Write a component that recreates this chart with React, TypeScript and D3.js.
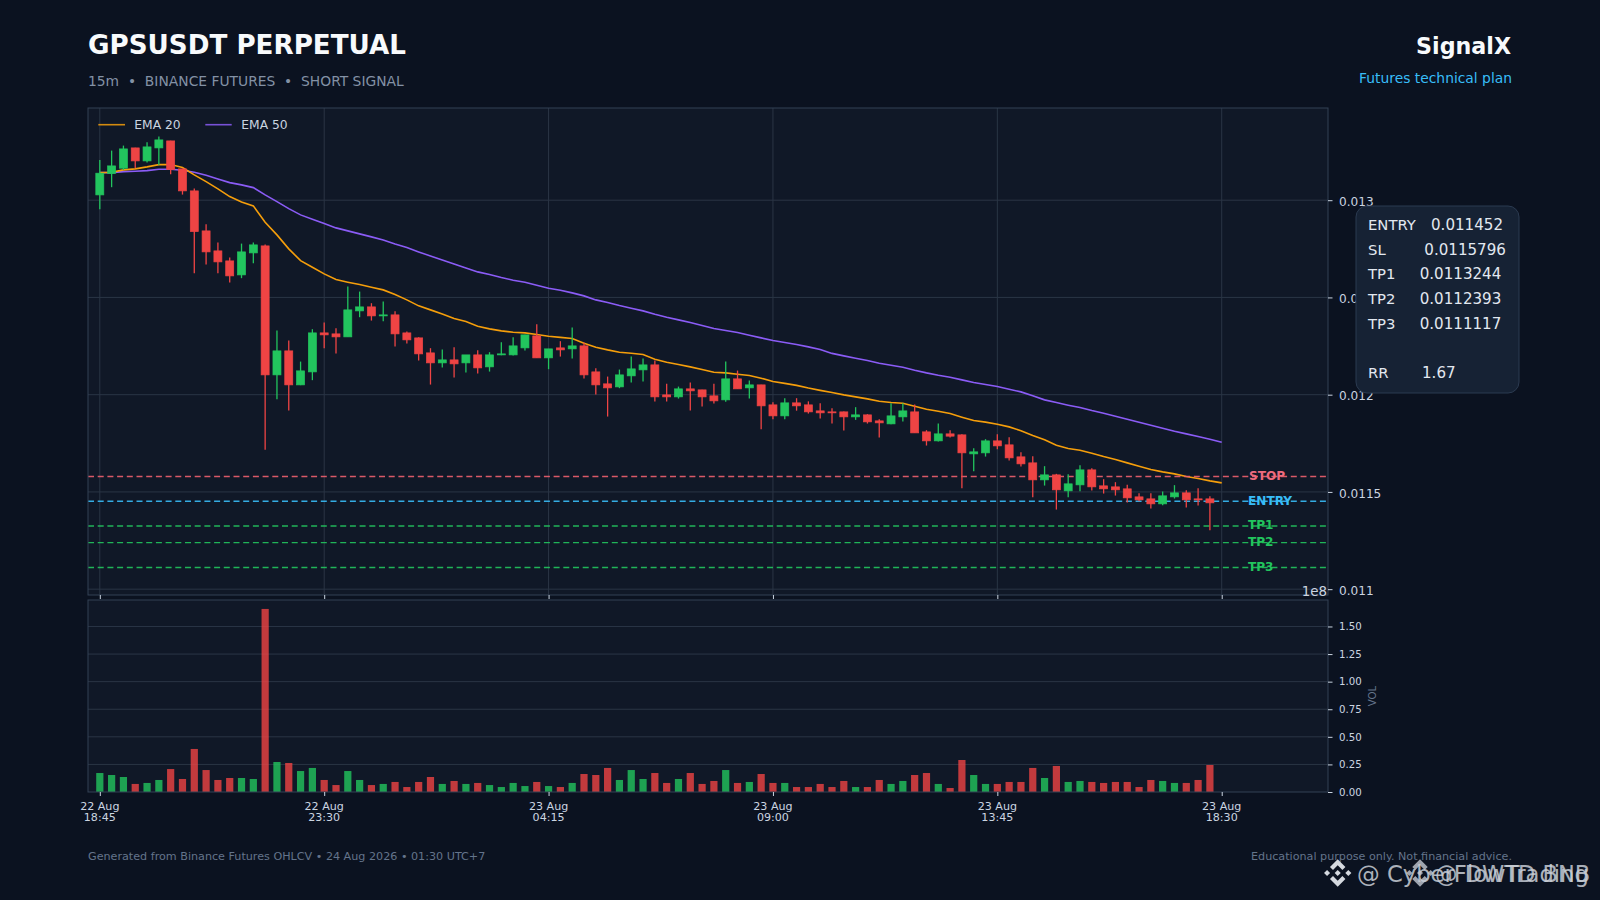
import React, { useEffect, useRef } from 'react';
import * as d3 from 'd3';

// candle values, 15m bars
const openPrices = [
  0.0130272, 0.0131367, 0.0131645, 0.0132688, 0.0132020, 0.0132688, 0.0133048, 0.0131609, 0.0130478, 0.0128421,
  0.0127393, 0.0126879, 0.0126159, 0.0127290, 0.0127650, 0.0121018, 0.0122252, 0.0120504, 0.0121172, 0.0123177,
  0.0123126, 0.0122972, 0.0124308, 0.0124514, 0.0124051, 0.0124103, 0.0123177, 0.0122920, 0.0122149, 0.0121635,
  0.0121789, 0.0121635, 0.0122046, 0.0121430, 0.0122046, 0.0122046, 0.0122406, 0.0123023, 0.0121892, 0.0122406,
  0.0122355, 0.0122509, 0.0121172, 0.0120556, 0.0120401, 0.0120967, 0.0121275, 0.0121532, 0.0119990, 0.0119887,
  0.0120299, 0.0120247, 0.0119939, 0.0119733, 0.0120813, 0.0120350, 0.0120504, 0.0119476, 0.0118910, 0.0119579,
  0.0119476, 0.0119167, 0.0119116, 0.0119116, 0.0118859, 0.0118962, 0.0118653, 0.0118499, 0.0118859, 0.0119116,
  0.0118088, 0.0117625, 0.0117985, 0.0117934, 0.0116957, 0.0117008, 0.0117625, 0.0117420, 0.0116803, 0.0116494,
  0.0115620, 0.0115877, 0.0115055, 0.0115363, 0.0116134, 0.0115312, 0.0115260, 0.0115158, 0.0114746, 0.0114643,
  0.0114386, 0.0114746, 0.0114952, 0.0114643, 0.0114643, 0.0114520,
];
const highPrices = [
  0.0132072, 0.0132550, 0.0132807, 0.0132700, 0.0132981, 0.0133269, 0.0133060, 0.0131620, 0.0130596, 0.0128766,
  0.0127820, 0.0127049, 0.0127768, 0.0127820, 0.0127717, 0.0123296, 0.0122782, 0.0121702, 0.0123367, 0.0123707,
  0.0123419, 0.0125558, 0.0125301, 0.0124704, 0.0124787, 0.0124293, 0.0123244, 0.0122956, 0.0122391, 0.0122319,
  0.0122442, 0.0122046, 0.0122288, 0.0122185, 0.0122699, 0.0122956, 0.0123075, 0.0123625, 0.0122355, 0.0122751,
  0.0123450, 0.0122679, 0.0121363, 0.0120931, 0.0121291, 0.0121959, 0.0121856, 0.0121754, 0.0120556, 0.0120417,
  0.0120623, 0.0120247, 0.0120556, 0.0121702, 0.0121239, 0.0120725, 0.0120504, 0.0119605, 0.0119810, 0.0119820,
  0.0119656, 0.0119563, 0.0119306, 0.0119132, 0.0119358, 0.0118998, 0.0118741, 0.0119563, 0.0119563, 0.0119491,
  0.0118175, 0.0118515, 0.0118175, 0.0117970, 0.0117250, 0.0117713, 0.0117970, 0.0117815, 0.0117044, 0.0116838,
  0.0116324, 0.0115929, 0.0115914, 0.0116376, 0.0116222, 0.0115656, 0.0115502, 0.0115363, 0.0114936, 0.0114936,
  0.0115019, 0.0115348, 0.0115091, 0.0115193, 0.0114782, 0.0114520,
];
const lowPrices = [
  0.0129537, 0.0130668, 0.0131557, 0.0131645, 0.0131933, 0.0131814, 0.0131336, 0.0130288, 0.0126246, 0.0126689,
  0.0126246, 0.0125763, 0.0125990, 0.0126761, 0.0117162, 0.0119769, 0.0119183, 0.0120489, 0.0120746, 0.0122391,
  0.0122113, 0.0122972, 0.0123984, 0.0123810, 0.0123779, 0.0122473, 0.0122627, 0.0121754, 0.0120520, 0.0121394,
  0.0120879, 0.0121137, 0.0121085, 0.0121188, 0.0122031, 0.0122011, 0.0122268, 0.0121892, 0.0121311, 0.0121959,
  0.0121856, 0.0120828, 0.0120006, 0.0118875, 0.0120335, 0.0120623, 0.0120674, 0.0119646, 0.0119646, 0.0119800,
  0.0119183, 0.0119389, 0.0119543, 0.0119630, 0.0120299, 0.0119800, 0.0118227, 0.0118731, 0.0118731, 0.0119178,
  0.0119029, 0.0118772, 0.0118515, 0.0118155, 0.0118705, 0.0118515, 0.0117795, 0.0118484, 0.0118617, 0.0118036,
  0.0117384, 0.0117589, 0.0117795, 0.0115194, 0.0116068, 0.0116818, 0.0117199, 0.0116613, 0.0116304, 0.0114731,
  0.0115327, 0.0114093, 0.0114731, 0.0115039, 0.0115070, 0.0114916, 0.0114813, 0.0114453, 0.0114525, 0.0114145,
  0.0114319, 0.0114659, 0.0114196, 0.0114299, 0.0113035, 0.0114520,
];
const closePrices = [
  0.0131388, 0.0131763, 0.0132637, 0.0132020, 0.0132740, 0.0133100, 0.0131573, 0.0130478, 0.0128385, 0.0127342,
  0.0126828, 0.0126108, 0.0127342, 0.0127702, 0.0121018, 0.0122252, 0.0120504, 0.0121224, 0.0123177, 0.0123075,
  0.0122972, 0.0124360, 0.0124514, 0.0124051, 0.0124103, 0.0123126, 0.0122818, 0.0122098, 0.0121635, 0.0121789,
  0.0121584, 0.0122046, 0.0121378, 0.0122046, 0.0122098, 0.0122509, 0.0123075, 0.0121892, 0.0122355, 0.0122303,
  0.0122509, 0.0121018, 0.0120504, 0.0120350, 0.0121018, 0.0121327, 0.0121532, 0.0119887, 0.0119887, 0.0120299,
  0.0120196, 0.0119887, 0.0119682, 0.0120813, 0.0120299, 0.0120504, 0.0119425, 0.0118910, 0.0119579, 0.0119425,
  0.0119116, 0.0119065, 0.0119065, 0.0118859, 0.0118962, 0.0118602, 0.0118551, 0.0118910, 0.0119167, 0.0118036,
  0.0117625, 0.0117985, 0.0117867, 0.0117008, 0.0117060, 0.0117625, 0.0117368, 0.0116751, 0.0116443, 0.0115620,
  0.0115877, 0.0115106, 0.0115415, 0.0116134, 0.0115260, 0.0115158, 0.0115106, 0.0114695, 0.0114592, 0.0114386,
  0.0114798, 0.0114952, 0.0114592, 0.0114592, 0.0114438, 0.0114520,
];
const ema20 = [
  0.0131419, 0.0131439, 0.0131557, 0.0131609, 0.0131712, 0.0131830, 0.0131830, 0.0131676, 0.0131300, 0.0130956,
  0.0130581, 0.0130185, 0.0129912, 0.0129707, 0.0128869, 0.0128216, 0.0127496, 0.0126894, 0.0126555, 0.0126211,
  0.0125918, 0.0125784, 0.0125661, 0.0125527, 0.0125388, 0.0125147, 0.0124874, 0.0124566, 0.0124360, 0.0124154,
  0.0123913, 0.0123758, 0.0123522, 0.0123383, 0.0123280, 0.0123213, 0.0123177, 0.0123090, 0.0123008, 0.0122946,
  0.0122885, 0.0122648, 0.0122442, 0.0122303, 0.0122185, 0.0122134, 0.0122062, 0.0121825, 0.0121671, 0.0121548,
  0.0121430, 0.0121291, 0.0121157, 0.0121121, 0.0121054, 0.0120982, 0.0120849, 0.0120674, 0.0120581, 0.0120478,
  0.0120340, 0.0120221, 0.0120108, 0.0119990, 0.0119887, 0.0119784, 0.0119666, 0.0119594, 0.0119563, 0.0119409,
  0.0119255, 0.0119152, 0.0119029, 0.0118843, 0.0118669, 0.0118587, 0.0118484, 0.0118345, 0.0118149, 0.0117903,
  0.0117677, 0.0117404, 0.0117229, 0.0117147, 0.0116993, 0.0116818, 0.0116664, 0.0116494, 0.0116324, 0.0116150,
  0.0116032, 0.0115929, 0.0115790, 0.0115687, 0.0115569, 0.0115466,
];
const ema50 = [
  0.0131419, 0.0131419, 0.0131470, 0.0131490, 0.0131521, 0.0131593, 0.0131593, 0.0131542, 0.0131439, 0.0131285,
  0.0131095, 0.0130904, 0.0130786, 0.0130647, 0.0130272, 0.0129928, 0.0129568, 0.0129244, 0.0129023, 0.0128797,
  0.0128576, 0.0128421, 0.0128267, 0.0128113, 0.0127948, 0.0127743, 0.0127563, 0.0127342, 0.0127136, 0.0126930,
  0.0126725, 0.0126519, 0.0126313, 0.0126175, 0.0126021, 0.0125887, 0.0125784, 0.0125630, 0.0125475, 0.0125373,
  0.0125234, 0.0125080, 0.0124874, 0.0124735, 0.0124581, 0.0124447, 0.0124308, 0.0124139, 0.0123985, 0.0123846,
  0.0123707, 0.0123553, 0.0123399, 0.0123296, 0.0123193, 0.0123059, 0.0122920, 0.0122782, 0.0122679, 0.0122576,
  0.0122458, 0.0122319, 0.0122123, 0.0121995, 0.0121877, 0.0121753, 0.0121620, 0.0121517, 0.0121414, 0.0121260,
  0.0121121, 0.0121003, 0.0120900, 0.0120761, 0.0120622, 0.0120520, 0.0120417, 0.0120283, 0.0120144, 0.0119939,
  0.0119733, 0.0119594, 0.0119461, 0.0119337, 0.0119183, 0.0119049, 0.0118895, 0.0118741, 0.0118587, 0.0118432,
  0.0118278, 0.0118124, 0.0117985, 0.0117846, 0.0117712, 0.0117558,
];
// volume in units of 1e8
const volumes = [
  0.172, 0.154, 0.136, 0.073, 0.082, 0.109, 0.208, 0.118, 0.390, 0.199,
  0.109, 0.127, 0.127, 0.118, 1.659, 0.272, 0.263, 0.190, 0.218, 0.109,
  0.063, 0.190, 0.109, 0.063, 0.073, 0.091, 0.045, 0.091, 0.136, 0.073,
  0.100, 0.073, 0.082, 0.063, 0.045, 0.082, 0.054, 0.091, 0.054, 0.045,
  0.082, 0.163, 0.154, 0.218, 0.109, 0.199, 0.118, 0.172, 0.082, 0.118,
  0.172, 0.073, 0.100, 0.199, 0.082, 0.091, 0.163, 0.082, 0.082, 0.045,
  0.045, 0.073, 0.045, 0.100, 0.045, 0.045, 0.109, 0.073, 0.100, 0.154,
  0.172, 0.073, 0.036, 0.290, 0.154, 0.073, 0.073, 0.091, 0.091, 0.218,
  0.127, 0.236, 0.091, 0.100, 0.091, 0.082, 0.091, 0.091, 0.045, 0.109,
  0.100, 0.082, 0.082, 0.109, 0.245, 0,
];

const timeTickIndex = [0, 19, 38, 57, 76, 95];
const timeTickDays = ['22 Aug', '22 Aug', '23 Aug', '23 Aug', '23 Aug', '23 Aug'];
const timeTickHours = ['18:45', '23:30', '04:15', '09:00', '13:45', '18:30'];
const priceTicks = [0.011, 0.0115, 0.012, 0.0125, 0.013];
const volumeTicks = [0, 0.25, 0.5, 0.75, 1, 1.25, 1.5];

const levelNames = ['STOP', 'ENTRY', 'TP1', 'TP2', 'TP3'];
const levelPrices = [0.0115796, 0.011452, 0.0113244, 0.0112393, 0.0111117];
const levelColors = ['#f0606f', '#38bdf8', '#22c55e', '#22c55e', '#22c55e'];
const levelTextColors = ['#ee6b7e', '#38bdf8', '#22c55e', '#22c55e', '#22c55e'];
const levelLabelY = [480, 505, 529.3, 545.7, 570.7];
const levelLabelX = [1249, 1248, 1248, 1248, 1248];

const planLabels = ['ENTRY', 'SL', 'TP1', 'TP2', 'TP3', 'RR'];
const planValues = ['0.011452', '0.0115796', '0.0113244', '0.0112393', '0.0111117', '1.67'];
const planValueOffset = [63, 56.3, 51.7, 51.7, 51.7, 54];
const planRowY = [230, 255, 279.3, 304, 328.7, 378.3];

const FONT = '"DejaVu Sans", sans-serif';
const UP = '#22c55e';
const DOWN = '#ef4444';
const GRID = '#2a3545';
const SPINE = '#334155';
const TICK_TEXT = '#cbd5e1';

const price = { left: 88, right: 1328, top: 108, bottom: 595 };
const vol = { top: 600, bottom: 792 };

// binance style mark: three small diamonds and two chevrons
function drawMark(g: any, cx: number, cy: number, r: number, color: string, opacity: number) {
  const mark = g.append('g').attr('fill', color).attr('opacity', opacity);
  [[0, 0.22], [-0.77, 0.22], [0.77, 0.22]].forEach(([dx, s]) => {
    const x0 = cx + dx * r;
    const d = s * r;
    mark.append('path').attr('d', `M${x0},${cy - d}L${x0 + d},${cy}L${x0},${cy + d}L${x0 - d},${cy}Z`);
  });
  const chevron = [[0, -1], [0.56, -0.44], [0.34, -0.22], [0, -0.56], [-0.34, -0.22], [-0.56, -0.44]];
  [1, -1].forEach((flip) => {
    mark.append('path').attr('d', d3.line()(chevron.map(([px, py]) => [cx + px * r, cy + flip * py * r] as [number, number])) + 'Z');
  });
}

function App() {
  const ref = useRef<SVGSVGElement | null>(null);

  useEffect(() => {
    const svg = d3.select(ref.current);
    svg.selectAll('*').remove();

    const x = d3.scaleLinear().domain([-1, 104]).range([price.left, price.right]);
    const y = d3.scaleLinear().domain([0.01097, 0.013474]).range([price.bottom, price.top]);
    const yVol = d3.scaleLinear().domain([0, 1.74]).range([vol.bottom, vol.top]);
    const bodyW = 8;
    const volW = 7.2;
    const idx = d3.range(openPrices.length);

    const label = (g: any, tx: number, ty: number, text: string, size: number, fill: string, weight = 'normal', anchor = 'start') =>
      g.append('text')
        .attr('x', tx)
        .attr('y', ty)
        .attr('font-family', FONT)
        .attr('font-size', size)
        .attr('font-weight', weight)
        .attr('text-anchor', anchor)
        .attr('fill', fill)
        .text(text);

    svg.append('rect').attr('width', 1600).attr('height', 900).attr('fill', '#0b1220');

    // panels
    svg.append('rect')
      .attr('x', price.left).attr('y', price.top)
      .attr('width', price.right - price.left).attr('height', price.bottom - price.top)
      .attr('fill', '#101827');
    svg.append('rect')
      .attr('x', price.left).attr('y', vol.top)
      .attr('width', price.right - price.left).attr('height', vol.bottom - vol.top)
      .attr('fill', '#101827');

    // grid
    const grid = svg.append('g').attr('stroke', GRID).attr('stroke-width', 1);
    grid.selectAll('.gx').data(timeTickIndex).join('line')
      .attr('class', 'gx')
      .attr('x1', (d: number) => x(d)).attr('x2', (d: number) => x(d))
      .attr('y1', price.top).attr('y2', price.bottom);
    grid.selectAll('.gy').data(priceTicks).join('line')
      .attr('class', 'gy')
      .attr('x1', price.left).attr('x2', price.right)
      .attr('y1', (d: number) => y(d)).attr('y2', (d: number) => y(d));
    grid.selectAll('.gv').data(volumeTicks.slice(1)).join('line')
      .attr('class', 'gv')
      .attr('x1', price.left).attr('x2', price.right)
      .attr('y1', (d: number) => yVol(d)).attr('y2', (d: number) => yVol(d));

    // ema lines
    const emaLine = d3.line<number>().x((_, i) => x(i)).y((d) => y(d));
    svg.append('path').attr('d', emaLine(ema50)).attr('fill', 'none').attr('stroke', '#8b5cf6').attr('stroke-width', 1.6);
    svg.append('path').attr('d', emaLine(ema20)).attr('fill', 'none').attr('stroke', '#f59e0b').attr('stroke-width', 1.6);

    // trade levels
    const levels = svg.append('g');
    levelPrices.forEach((p, i) => {
      levels.append('line')
        .attr('x1', price.left).attr('x2', price.right)
        .attr('y1', y(p)).attr('y2', y(p))
        .attr('stroke', levelColors[i])
        .attr('stroke-width', 1.4)
        .attr('stroke-opacity', 0.9)
        .attr('stroke-dasharray', '6,3.7');
    });

    // candles
    const candles = svg.append('g').selectAll('g').data(idx).join('g');
    const colorOf = (i: number) => (closePrices[i] >= openPrices[i] ? UP : DOWN);
    candles.append('line')
      .attr('x1', (i: number) => x(i)).attr('x2', (i: number) => x(i))
      .attr('y1', (i: number) => y(highPrices[i])).attr('y2', (i: number) => y(lowPrices[i]))
      .attr('stroke', colorOf).attr('stroke-width', 1.3);
    candles.append('rect')
      .attr('x', (i: number) => x(i) - bodyW / 2)
      .attr('width', bodyW)
      .attr('y', (i: number) => y(Math.max(openPrices[i], closePrices[i])))
      .attr('height', (i: number) => Math.abs(y(openPrices[i]) - y(closePrices[i])))
      .attr('fill', colorOf).attr('stroke', colorOf).attr('stroke-width', 0.7);

    // volume bars
    svg.append('g').selectAll('rect').data(idx).join('rect')
      .attr('x', (i: number) => x(i) - volW / 2)
      .attr('width', volW)
      .attr('y', (i: number) => yVol(volumes[i]))
      .attr('height', (i: number) => yVol(0) - yVol(volumes[i]))
      .attr('fill', colorOf).attr('fill-opacity', 0.8);

    // spines
    [[price.top, price.bottom], [vol.top, vol.bottom]].forEach(([t, b]) => {
      svg.append('rect')
        .attr('x', price.left).attr('y', t)
        .attr('width', price.right - price.left).attr('height', b - t)
        .attr('fill', 'none').attr('stroke', SPINE).attr('stroke-width', 1);
    });

    // axes
    const styleAxis = (g: any, size: number) => {
      g.select('.domain').remove();
      g.selectAll('line').attr('stroke', TICK_TEXT);
      g.selectAll('text').attr('fill', TICK_TEXT).attr('font-family', FONT).attr('font-size', size);
    };
    svg.append('g')
      .attr('transform', `translate(${price.right},0)`)
      .call(d3.axisRight(y).tickValues(priceTicks).tickSize(4.5).tickPadding(6.5).tickFormat((d: any) => String(d)) as any)
      .call((g: any) => styleAxis(g, 12.1))
      .call((g: any) => g.selectAll('text').attr('dy', '0.42em'));
    svg.append('g')
      .attr('transform', `translate(${price.right},0)`)
      .call(d3.axisRight(yVol).tickValues(volumeTicks).tickSize(4.5).tickPadding(6.5).tickFormat((d: any) => d3.format('.2f')(d)) as any)
      .call((g: any) => styleAxis(g, 10.2));
    svg.append('g')
      .attr('transform', `translate(0,${price.bottom})`)
      .call(d3.axisBottom(x).tickValues(timeTickIndex).tickSize(4).tickFormat(() => '') as any)
      .call((g: any) => styleAxis(g, 10));
    svg.append('g')
      .attr('transform', `translate(0,${vol.bottom})`)
      .call(d3.axisBottom(x).tickValues(timeTickIndex).tickSize(4).tickFormat(() => '') as any)
      .call((g: any) => styleAxis(g, 10));

    timeTickIndex.forEach((t, i) => {
      label(svg, x(t), 810, timeTickDays[i], 11.1, TICK_TEXT, 'normal', 'middle');
      label(svg, x(t), 821, timeTickHours[i], 11.1, TICK_TEXT, 'normal', 'middle');
    });

    label(svg, 1327, 595.5, '1e8', 13.4, TICK_TEXT, 'normal', 'end');
    label(svg, 0, 0, 'VOL', 10.2, '#64748b', 'normal', 'middle')
      .attr('transform', `translate(1375.5,696) rotate(-90)`);

    // level labels
    levelNames.forEach((name, i) => {
      label(svg, levelLabelX[i], levelLabelY[i], name, 12.1, levelTextColors[i], 'bold');
    });

    // legend
    svg.append('line').attr('x1', 98.3).attr('x2', 125).attr('y1', 124.7).attr('y2', 124.7)
      .attr('stroke', '#f59e0b').attr('stroke-width', 1.6).attr('opacity', 0.85);
    label(svg, 134.3, 129.3, 'EMA 20', 12.3, TICK_TEXT);
    svg.append('line').attr('x1', 205.3).attr('x2', 231.7).attr('y1', 124.7).attr('y2', 124.7)
      .attr('stroke', '#8b5cf6').attr('stroke-width', 1.6).attr('opacity', 0.85);
    label(svg, 241.3, 129.3, 'EMA 50', 12.3, TICK_TEXT);

    // header
    label(svg, 88, 54, 'GPSUSDT PERPETUAL', 26.2, '#f8fafc', 'bold');
    label(svg, 88, 86, '15m  \u2022  BINANCE FUTURES  \u2022  SHORT SIGNAL', 13.85, '#8391a5').style('white-space', 'pre');
    label(svg, 1511, 54, 'SignalX', 22.2, '#f8fafc', 'bold', 'end');
    label(svg, 1512, 83, 'Futures technical plan', 13.85, '#38bdf8', 'normal', 'end');

    // trade plan box
    svg.append('rect')
      .attr('x', 1356).attr('y', 206).attr('width', 163).attr('height', 187).attr('rx', 11)
      .attr('fill', '#162234').attr('stroke', '#2b3a50').attr('stroke-width', 1);
    planLabels.forEach((name, i) => {
      label(svg, 1368, planRowY[i], name, 14.8, '#e2e8f0');
      label(svg, 1368 + planValueOffset[i], planRowY[i], planValues[i], 15.1, '#e2e8f0');
    });

    // footer
    label(svg, 88, 860, 'Generated from Binance Futures OHLCV \u2022 24 Aug 2026 \u2022 01:30 UTC+7', 11.16, '#64748b');
    label(svg, 1512, 860, 'Educational purpose only. Not financial advice.', 11.16, '#64748b', 'normal', 'end');

    // watermarks
    drawMark(svg, 1420, 873, 13.8, '#c4cad3', 0.8);
    label(svg, 1435, 882, '@ DWTD BNB', 22.5, '#c4cad3').attr('opacity', 0.85);
    drawMark(svg, 1337.7, 873, 13.8, '#d5d9df', 1);
    label(svg, 1357, 882, '@ CyberFlowTrading', 22.7, '#c9ced6').attr('opacity', 0.85);
  }, []);

  return (
    <svg
      ref={ref}
      width={1600}
      height={900}
      style={{ position: 'absolute', left: 0, top: 0, display: 'block' }}
    />
  );
}

export default App;
